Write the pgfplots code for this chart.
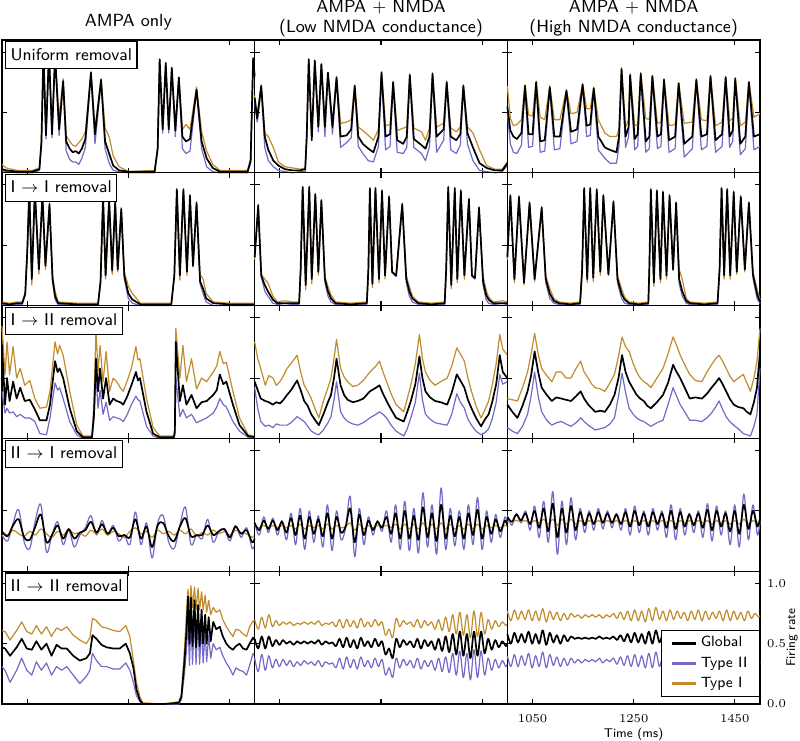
\documentclass[border=0pt]{standalone}
\usepackage{pgfplots}
\pgfplotsset{compat=1.18}
\usepackage{pgfplotstable}
\usepgfplotslibrary{groupplots}
\definecolor{typeII}{RGB}{115,105,198}
\definecolor{typeI}{RGB}{192,140,44}

% ---------- Row 1: Uniform removal ----------
\pgfplotstableread{
t g b o
1000 0.03 0.02 0.07
1008 0.02 0.01 0.04
1030 0.01 0.00 0.02
1060 0.01 0.00 0.02
1074 0.03 0.02 0.04
1078 0.25 0.23 0.27
1082 1.00 0.99 1.00
1087 0.31 0.28 0.33
1093 1.00 0.99 1.00
1099 0.32 0.29 0.34
1105 0.98 0.97 0.98
1113 0.36 0.31 0.45
1121 0.76 0.75 0.78
1127 0.26 0.18 0.31
1134 0.20 0.11 0.26
1140 0.17 0.09 0.23
1146 0.18 0.09 0.22
1152 0.16 0.07 0.25
1158 0.20 0.12 0.28
1165 0.28 0.21 0.34
1176 0.83 0.82 0.84
1184 0.32 0.24 0.37
1196 0.77 0.76 0.78
1204 0.26 0.20 0.37
1212 0.16 0.08 0.30
1220 0.06 0.02 0.14
1232 0.02 0.01 0.05
1250 0.01 0.00 0.01
1302 0.01 0.00 0.02
1308 0.20 0.18 0.21
1312 0.94 0.93 0.94
1318 0.36 0.33 0.36
1324 0.91 0.90 0.91
1330 0.36 0.33 0.37
1336 0.87 0.86 0.87
1343 0.35 0.30 0.38
1350 0.79 0.78 0.79
1357 0.30 0.20 0.36
1364 0.26 0.16 0.40
1372 0.28 0.18 0.36
1385 0.69 0.68 0.71
1395 0.26 0.20 0.34
1405 0.12 0.05 0.18
1417 0.04 0.01 0.07
1431 0.01 0.00 0.02
1486 0.01 0.00 0.02
1492 0.10 0.08 0.12
1497 0.95 0.93 0.95
1500 0.80 0.78 0.80
}\tAA
\pgfplotstableread{
t g b o
1000 0.62 0.58 0.64
1005 0.45 0.42 0.48
1013 0.72 0.70 0.73
1020 0.30 0.21 0.33
1027 0.19 0.10 0.30
1037 0.10 0.05 0.21
1047 0.06 0.02 0.09
1060 0.03 0.01 0.05
1075 0.02 0.00 0.04
1090 0.02 0.01 0.03
1100 0.03 0.01 0.04
1103 0.30 0.28 0.31
1107 0.94 0.93 0.94
1113 0.27 0.30 0.30
1119 0.93 0.92 0.93
1126 0.38 0.34 0.40
1132 0.90 0.89 0.90
1139 0.38 0.30 0.42
1145 0.83 0.82 0.83
1154 0.38 0.32 0.42
1162 0.79 0.78 0.80
1170 0.30 0.21 0.41
1182 0.31 0.25 0.42
1191 0.36 0.29 0.44
1198 0.72 0.71 0.73
1205 0.30 0.22 0.38
1214 0.24 0.16 0.35
1225 0.20 0.10 0.31
1235 0.17 0.09 0.27
1245 0.30 0.22 0.36
1251 0.83 0.82 0.84
1259 0.30 0.19 0.39
1268 0.32 0.22 0.40
1274 0.75 0.74 0.76
1282 0.27 0.17 0.35
1294 0.24 0.16 0.37
1301 0.30 0.21 0.38
1307 0.81 0.80 0.82
1315 0.28 0.21 0.37
1330 0.23 0.16 0.34
1338 0.20 0.10 0.27
1346 0.30 0.22 0.37
1352 0.82 0.81 0.83
1360 0.30 0.17 0.38
1374 0.36 0.27 0.41
1380 0.75 0.74 0.76
1388 0.30 0.19 0.37
1399 0.27 0.16 0.34
1407 0.32 0.23 0.38
1413 0.72 0.71 0.73
1421 0.33 0.24 0.38
1432 0.21 0.10 0.33
1445 0.08 0.02 0.19
1459 0.04 0.01 0.06
1475 0.02 0.00 0.03
1490 0.02 0.01 0.03
1500 0.08 0.06 0.09
}\tAB
\pgfplotstableread{
t g b o
1000 0.55 0.50 0.72
1006 0.35 0.24 0.45
1012 0.30 0.17 0.39
1019 0.28 0.16 0.40
1028 0.33 0.23 0.44
1035 0.72 0.71 0.73
1042 0.32 0.21 0.48
1050 0.32 0.22 0.47
1057 0.75 0.74 0.76
1065 0.26 0.17 0.46
1074 0.27 0.18 0.44
1084 0.71 0.70 0.72
1093 0.30 0.19 0.44
1104 0.30 0.20 0.44
1117 0.68 0.67 0.69
1126 0.34 0.24 0.49
1138 0.36 0.26 0.50
1149 0.73 0.72 0.74
1157 0.39 0.30 0.53
1164 0.40 0.31 0.53
1171 0.70 0.69 0.71
1180 0.30 0.19 0.44
1193 0.21 0.12 0.33
1203 0.19 0.08 0.30
1216 0.17 0.08 0.30
1221 0.30 0.22 0.36
1226 0.86 0.85 0.87
1234 0.30 0.21 0.38
1240 0.38 0.30 0.44
1243 0.81 0.80 0.82
1252 0.28 0.19 0.39
1258 0.32 0.22 0.40
1264 0.82 0.81 0.83
1274 0.26 0.17 0.45
1281 0.30 0.20 0.44
1287 0.80 0.79 0.81
1297 0.30 0.20 0.41
1304 0.32 0.22 0.42
1310 0.77 0.76 0.78
1320 0.27 0.17 0.39
1332 0.30 0.20 0.40
1339 0.74 0.73 0.75
1350 0.24 0.13 0.41
1366 0.30 0.20 0.42
1374 0.77 0.76 0.78
1384 0.30 0.19 0.44
1395 0.32 0.22 0.43
1402 0.80 0.79 0.81
1412 0.27 0.17 0.39
1425 0.32 0.22 0.42
1432 0.79 0.78 0.80
1440 0.30 0.21 0.43
1446 0.35 0.26 0.45
1451 0.78 0.77 0.79
1461 0.24 0.15 0.39
1471 0.30 0.20 0.42
1478 0.75 0.74 0.76
1488 0.30 0.19 0.46
1500 0.32 0.22 0.49
}\tAC

% ---------- Row 2: I -> I removal ----------
\pgfplotstableread{
t g b o
1000 0.02 0.01 0.03
1015 0.01 0.00 0.02
1030 0.02 0.01 0.03
1040 0.02 0.01 0.03
1046 0.10 0.09 0.08
1050 0.45 0.46 0.42
1054 0.96 0.97 0.94
1059 0.22 0.23 0.17
1065 0.96 0.97 0.94
1073 0.30 0.31 0.26
1080 0.92 0.93 0.90
1086 0.33 0.33 0.30
1094 0.84 0.85 0.82
1100 0.22 0.20 0.26
1105 0.08 0.05 0.12
1111 0.02 0.01 0.03
1150 0.01 0.00 0.02
1190 0.01 0.00 0.02
1195 0.20 0.20 0.18
1200 0.90 0.91 0.88
1205 0.25 0.26 0.22
1212 0.88 0.89 0.86
1218 0.29 0.30 0.26
1224 0.86 0.87 0.84
1229 0.30 0.30 0.28
1236 0.80 0.81 0.78
1242 0.25 0.22 0.28
1250 0.10 0.06 0.16
1258 0.05 0.02 0.10
1274 0.01 0.00 0.02
1300 0.01 0.00 0.02
1335 0.01 0.00 0.02
1341 0.25 0.25 0.23
1346 0.96 0.97 0.94
1352 0.25 0.26 0.21
1359 0.96 0.97 0.94
1366 0.28 0.29 0.25
1372 0.91 0.92 0.89
1378 0.33 0.32 0.36
1385 0.85 0.86 0.83
1392 0.20 0.18 0.26
1398 0.14 0.10 0.22
1404 0.06 0.03 0.10
1418 0.02 0.00 0.03
1450 0.01 0.00 0.02
1500 0.01 0.00 0.02
}\tBA
\pgfplotstableread{
t g b o
1000 0.40 0.40 0.38
1007 0.83 0.84 0.81
1013 0.25 0.24 0.26
1020 0.17 0.12 0.22
1026 0.12 0.08 0.19
1036 0.05 0.02 0.08
1045 0.02 0.01 0.03
1060 0.02 0.00 0.04
1075 0.02 0.01 0.03
1088 0.02 0.01 0.03
1091 0.30 0.30 0.28
1095 0.98 0.99 0.96
1101 0.17 0.17 0.13
1108 0.98 0.99 0.96
1113 0.22 0.22 0.18
1120 0.92 0.93 0.90
1126 0.28 0.28 0.25
1132 0.87 0.88 0.85
1139 0.22 0.19 0.24
1145 0.12 0.08 0.16
1151 0.06 0.03 0.09
1160 0.02 0.01 0.03
1190 0.01 0.00 0.02
1222 0.02 0.01 0.03
1225 0.30 0.30 0.28
1228 0.97 0.98 0.95
1233 0.18 0.18 0.15
1239 0.97 0.98 0.95
1246 0.22 0.22 0.19
1252 0.95 0.96 0.93
1258 0.25 0.25 0.22
1266 0.90 0.91 0.88
1272 0.28 0.27 0.27
1280 0.25 0.24 0.25
1292 0.84 0.85 0.82
1300 0.22 0.19 0.25
1306 0.12 0.08 0.16
1312 0.06 0.03 0.08
1324 0.02 0.01 0.03
1350 0.01 0.00 0.02
1376 0.02 0.01 0.03
1379 0.30 0.30 0.28
1383 0.98 0.99 0.96
1389 0.17 0.17 0.14
1396 0.97 0.98 0.95
1401 0.22 0.22 0.19
1408 0.95 0.96 0.93
1415 0.25 0.25 0.22
1424 0.88 0.89 0.86
1430 0.25 0.24 0.24
1436 0.23 0.22 0.24
1444 0.81 0.82 0.79
1452 0.20 0.17 0.24
1458 0.09 0.05 0.13
1463 0.05 0.02 0.07
1472 0.02 0.01 0.03
1490 0.02 0.00 0.04
1500 0.02 0.01 0.03
}\tBB
\pgfplotstableread{
t g b o
1000 0.40 0.40 0.38
1006 0.91 0.92 0.89
1014 0.22 0.22 0.19
1023 0.90 0.91 0.88
1033 0.19 0.19 0.17
1044 0.85 0.86 0.83
1054 0.22 0.22 0.20
1068 0.81 0.82 0.79
1076 0.22 0.19 0.25
1084 0.10 0.06 0.14
1092 0.04 0.02 0.06
1102 0.02 0.01 0.03
1125 0.01 0.00 0.02
1144 0.02 0.01 0.03
1148 0.30 0.30 0.28
1152 0.97 0.98 0.95
1158 0.22 0.22 0.19
1164 0.97 0.98 0.95
1170 0.23 0.23 0.20
1177 0.96 0.97 0.94
1184 0.28 0.28 0.25
1190 0.91 0.92 0.89
1200 0.26 0.26 0.25
1210 0.86 0.87 0.84
1218 0.22 0.19 0.25
1226 0.10 0.06 0.14
1232 0.05 0.02 0.07
1241 0.02 0.01 0.03
1260 0.01 0.00 0.02
1279 0.02 0.01 0.03
1281 0.30 0.30 0.28
1284 0.96 0.97 0.94
1290 0.19 0.19 0.16
1296 0.95 0.96 0.93
1303 0.22 0.22 0.19
1308 0.94 0.95 0.92
1315 0.25 0.25 0.22
1321 0.91 0.92 0.89
1328 0.30 0.29 0.30
1334 0.85 0.86 0.83
1340 0.22 0.18 0.30
1346 0.12 0.08 0.22
1354 0.04 0.02 0.06
1361 0.02 0.01 0.03
1390 0.01 0.00 0.02
1416 0.02 0.01 0.03
1420 0.30 0.30 0.28
1424 0.97 0.98 0.95
1429 0.25 0.25 0.22
1435 0.96 0.97 0.94
1441 0.25 0.25 0.22
1448 0.94 0.95 0.92
1454 0.28 0.28 0.26
1462 0.90 0.91 0.88
1470 0.30 0.30 0.28
1478 0.85 0.86 0.83
1486 0.26 0.23 0.28
1494 0.10 0.06 0.14
1500 0.03 0.02 0.05
}\tBC

% ---------- Row 3: I -> II removal ----------
\pgfplotstableread{
t g b o
1000 0.77 0.39 0.93
1006 0.28 0.21 0.53
1010 0.50 0.25 0.80
1015 0.31 0.21 0.53
1022 0.47 0.22 0.76
1029 0.33 0.18 0.50
1036 0.42 0.20 0.58
1045 0.31 0.17 0.44
1055 0.32 0.17 0.48
1065 0.24 0.14 0.33
1075 0.15 0.04 0.25
1088 0.15 0.03 0.26
1095 0.28 0.17 0.39
1105 0.64 0.46 0.80
1110 0.55 0.40 0.70
1114 0.58 0.42 0.77
1121 0.50 0.33 0.69
1134 0.25 0.14 0.39
1148 0.06 0.03 0.11
1160 0.01 0.00 0.02
1178 0.01 0.00 0.02
1182 0.20 0.15 0.30
1186 0.66 0.53 0.91
1190 0.39 0.25 0.55
1194 0.58 0.40 0.77
1200 0.33 0.20 0.47
1206 0.50 0.30 0.72
1213 0.28 0.15 0.39
1220 0.33 0.18 0.50
1227 0.31 0.17 0.47
1234 0.30 0.16 0.42
1240 0.28 0.14 0.39
1248 0.35 0.20 0.48
1256 0.44 0.28 0.58
1265 0.55 0.35 0.76
1269 0.48 0.32 0.65
1273 0.50 0.31 0.66
1286 0.22 0.10 0.33
1299 0.04 0.02 0.09
1312 0.01 0.00 0.02
1340 0.01 0.00 0.02
1342 0.05 0.03 0.08
1344 0.80 0.50 0.91
1352 0.31 0.18 0.50
1358 0.44 0.24 0.77
1365 0.28 0.17 0.47
1375 0.36 0.20 0.66
1385 0.25 0.13 0.41
1395 0.30 0.15 0.50
1405 0.31 0.17 0.47
1418 0.36 0.21 0.55
1425 0.40 0.26 0.60
1431 0.53 0.33 0.72
1438 0.45 0.28 0.62
1444 0.47 0.26 0.63
1457 0.28 0.14 0.39
1470 0.11 0.06 0.17
1487 0.02 0.01 0.03
1500 0.01 0.00 0.02
}\tCA
\pgfplotstableread{
t g b o
1000 0.47 0.42 0.80
1006 0.40 0.25 0.66
1012 0.33 0.14 0.58
1021 0.31 0.10 0.44
1028 0.30 0.11 0.52
1036 0.28 0.09 0.50
1043 0.30 0.12 0.44
1050 0.29 0.11 0.47
1057 0.32 0.11 0.52
1064 0.36 0.11 0.58
1072 0.40 0.13 0.62
1084 0.48 0.18 0.69
1091 0.40 0.16 0.55
1098 0.31 0.14 0.44
1105 0.27 0.10 0.39
1112 0.20 0.06 0.33
1120 0.15 0.04 0.24
1127 0.11 0.03 0.17
1136 0.20 0.07 0.31
1145 0.30 0.13 0.42
1151 0.36 0.18 0.50
1157 0.50 0.32 0.66
1162 0.66 0.47 0.82
1170 0.44 0.22 0.58
1177 0.36 0.17 0.51
1184 0.32 0.14 0.47
1194 0.30 0.12 0.43
1204 0.31 0.11 0.44
1215 0.33 0.13 0.48
1228 0.39 0.17 0.55
1240 0.42 0.20 0.60
1247 0.44 0.22 0.64
1254 0.37 0.20 0.55
1261 0.31 0.17 0.47
1270 0.24 0.11 0.37
1280 0.17 0.06 0.28
1295 0.14 0.02 0.22
1302 0.22 0.08 0.33
1309 0.31 0.17 0.44
1318 0.45 0.30 0.62
1326 0.68 0.54 0.86
1332 0.50 0.32 0.66
1338 0.39 0.20 0.55
1347 0.34 0.16 0.48
1357 0.31 0.13 0.44
1368 0.30 0.12 0.47
1381 0.28 0.11 0.50
1390 0.38 0.20 0.60
1400 0.53 0.37 0.75
1407 0.48 0.30 0.70
1415 0.42 0.25 0.64
1422 0.32 0.16 0.50
1429 0.25 0.11 0.39
1438 0.17 0.06 0.27
1448 0.10 0.03 0.17
1456 0.16 0.05 0.24
1463 0.20 0.08 0.31
1470 0.30 0.16 0.44
1478 0.45 0.30 0.62
1485 0.69 0.53 0.86
1491 0.55 0.45 0.74
1500 0.50 0.47 0.69
}\tCB
\pgfplotstableread{
t g b o
1000 0.28 0.09 0.33
1010 0.22 0.06 0.32
1020 0.17 0.04 0.31
1030 0.27 0.10 0.42
1040 0.39 0.20 0.55
1047 0.52 0.35 0.70
1054 0.72 0.55 0.87
1061 0.55 0.35 0.70
1068 0.42 0.22 0.58
1078 0.36 0.15 0.52
1088 0.31 0.11 0.47
1097 0.34 0.13 0.55
1107 0.33 0.14 0.55
1116 0.32 0.12 0.50
1126 0.31 0.10 0.50
1136 0.35 0.13 0.58
1145 0.39 0.17 0.64
1152 0.33 0.14 0.55
1160 0.28 0.11 0.50
1167 0.25 0.09 0.45
1174 0.22 0.07 0.42
1184 0.23 0.08 0.41
1193 0.22 0.09 0.39
1203 0.28 0.12 0.46
1212 0.36 0.17 0.53
1220 0.50 0.35 0.68
1227 0.69 0.54 0.84
1234 0.55 0.38 0.76
1241 0.47 0.25 0.72
1249 0.41 0.20 0.62
1256 0.36 0.17 0.55
1263 0.33 0.15 0.50
1270 0.31 0.14 0.47
1277 0.27 0.12 0.45
1284 0.25 0.10 0.42
1296 0.30 0.13 0.50
1308 0.36 0.15 0.58
1318 0.46 0.28 0.70
1328 0.61 0.42 0.84
1335 0.55 0.35 0.77
1342 0.50 0.28 0.69
1351 0.42 0.22 0.61
1361 0.33 0.15 0.53
1372 0.34 0.15 0.48
1385 0.33 0.14 0.47
1395 0.37 0.17 0.55
1404 0.42 0.21 0.61
1412 0.46 0.26 0.66
1419 0.50 0.31 0.69
1426 0.45 0.24 0.64
1433 0.39 0.18 0.58
1440 0.33 0.14 0.52
1448 0.28 0.11 0.47
1457 0.26 0.08 0.50
1467 0.25 0.04 0.53
1474 0.22 0.03 0.46
1481 0.20 0.02 0.39
1488 0.30 0.10 0.50
1494 0.42 0.20 0.64
1500 0.72 0.58 0.91
}\tCC

% ---------- Row 4: II -> I removal ----------
\pgfplotstableread{
t g b o
1000 0.33 0.30 0.33
1011 0.29 0.25 0.30
1022 0.38 0.40 0.34
1033 0.43 0.51 0.31
1044 0.28 0.24 0.29
1055 0.26 0.19 0.33
1066 0.37 0.42 0.30
1077 0.47 0.55 0.35
1088 0.24 0.16 0.31
1099 0.30 0.30 0.28
1110 0.38 0.41 0.33
1121 0.27 0.22 0.30
1132 0.35 0.34 0.34
1143 0.27 0.20 0.31
1154 0.32 0.30 0.32
1165 0.34 0.36 0.29
1176 0.41 0.46 0.34
1187 0.32 0.30 0.31
1198 0.39 0.42 0.35
1209 0.31 0.30 0.30
1220 0.36 0.38 0.33
1231 0.29 0.25 0.31
1242 0.30 0.30 0.28
1253 0.28 0.22 0.33
1264 0.43 0.49 0.36
1275 0.27 0.22 0.31
1286 0.37 0.40 0.33
1297 0.20 0.11 0.28
1308 0.38 0.40 0.34
1319 0.40 0.46 0.31
1330 0.29 0.24 0.33
1341 0.25 0.19 0.30
1352 0.37 0.38 0.34
1363 0.44 0.53 0.31
1374 0.29 0.22 0.35
1385 0.30 0.30 0.29
1396 0.30 0.27 0.32
1407 0.38 0.43 0.30
1418 0.30 0.24 0.34
1429 0.33 0.33 0.31
1440 0.35 0.35 0.33
1451 0.28 0.25 0.30
1462 0.37 0.38 0.34
1473 0.31 0.28 0.32
1484 0.34 0.36 0.31
1495 0.24 0.19 0.28
1500 0.27 0.22 0.30
}\tDA
\pgfplotstableread{
t g b o
1000 0.40 0.40 0.37
1009 0.34 0.30 0.36
1018 0.42 0.45 0.38
1027 0.35 0.32 0.36
1036 0.42 0.44 0.38
1045 0.34 0.30 0.36
1054 0.41 0.42 0.38
1063 0.32 0.26 0.36
1072 0.44 0.48 0.38
1081 0.30 0.22 0.35
1090 0.46 0.52 0.39
1099 0.27 0.18 0.35
1108 0.45 0.50 0.38
1117 0.31 0.24 0.36
1126 0.43 0.46 0.38
1135 0.29 0.20 0.35
1144 0.48 0.55 0.39
1153 0.27 0.17 0.35
1162 0.45 0.50 0.38
1171 0.32 0.26 0.36
1180 0.37 0.36 0.37
1189 0.52 0.62 0.40
1198 0.24 0.12 0.34
1207 0.47 0.52 0.39
1216 0.30 0.22 0.35
1225 0.42 0.45 0.38
1234 0.34 0.30 0.36
1243 0.41 0.42 0.38
1252 0.36 0.33 0.37
1261 0.45 0.50 0.38
1270 0.31 0.24 0.36
1279 0.48 0.55 0.39
1288 0.27 0.18 0.35
1297 0.50 0.58 0.39
1306 0.27 0.17 0.35
1315 0.46 0.52 0.39
1324 0.26 0.15 0.35
1333 0.53 0.65 0.40
1342 0.28 0.20 0.35
1351 0.48 0.55 0.39
1360 0.25 0.14 0.35
1369 0.55 0.69 0.40
1378 0.27 0.18 0.35
1387 0.46 0.52 0.39
1396 0.29 0.21 0.35
1405 0.45 0.50 0.38
1414 0.27 0.18 0.35
1423 0.48 0.55 0.39
1432 0.30 0.22 0.35
1441 0.51 0.61 0.39
1450 0.27 0.18 0.35
1459 0.45 0.50 0.38
1468 0.31 0.24 0.36
1477 0.43 0.47 0.38
1486 0.33 0.28 0.36
1495 0.42 0.45 0.38
1500 0.38 0.38 0.37
}\tDB
\pgfplotstableread{
t g b o
1000 0.45 0.46 0.41
1009 0.41 0.38 0.41
1018 0.47 0.48 0.42
1027 0.42 0.40 0.41
1036 0.48 0.50 0.42
1045 0.39 0.34 0.40
1054 0.50 0.54 0.42
1063 0.36 0.28 0.40
1072 0.52 0.58 0.43
1081 0.33 0.24 0.39
1090 0.56 0.66 0.43
1099 0.28 0.14 0.38
1108 0.52 0.58 0.43
1117 0.32 0.22 0.39
1126 0.54 0.61 0.43
1135 0.34 0.26 0.39
1144 0.49 0.52 0.42
1153 0.38 0.32 0.40
1162 0.48 0.50 0.42
1171 0.39 0.34 0.40
1180 0.49 0.52 0.42
1189 0.40 0.35 0.40
1198 0.48 0.50 0.42
1207 0.40 0.36 0.40
1216 0.47 0.48 0.42
1225 0.39 0.34 0.40
1234 0.49 0.52 0.42
1243 0.37 0.30 0.40
1252 0.50 0.54 0.42
1261 0.38 0.32 0.40
1270 0.48 0.50 0.42
1279 0.37 0.30 0.40
1288 0.49 0.52 0.42
1297 0.39 0.34 0.40
1306 0.48 0.50 0.42
1315 0.36 0.28 0.40
1324 0.50 0.55 0.42
1333 0.35 0.26 0.39
1342 0.49 0.52 0.42
1351 0.37 0.30 0.40
1360 0.47 0.48 0.42
1369 0.38 0.32 0.40
1378 0.48 0.50 0.42
1387 0.36 0.28 0.40
1396 0.51 0.56 0.42
1405 0.34 0.25 0.39
1414 0.50 0.54 0.42
1423 0.37 0.30 0.40
1432 0.48 0.50 0.42
1441 0.33 0.22 0.39
1450 0.50 0.55 0.42
1459 0.31 0.20 0.39
1468 0.55 0.64 0.43
1477 0.35 0.26 0.39
1486 0.50 0.55 0.42
1495 0.37 0.30 0.40
1500 0.44 0.42 0.41
}\tDC

% ---------- Row 5: II -> II removal ----------
\pgfplotstableread{
t g b o
1000 0.47 0.31 0.61
1006 0.46 0.28 0.60
1016 0.40 0.18 0.53
1029 0.47 0.28 0.61
1039 0.54 0.38 0.68
1049 0.46 0.28 0.60
1059 0.45 0.24 0.58
1068 0.52 0.35 0.65
1078 0.45 0.28 0.58
1088 0.50 0.34 0.64
1098 0.40 0.24 0.56
1108 0.49 0.31 0.63
1118 0.46 0.28 0.61
1128 0.46 0.31 0.64
1141 0.40 0.24 0.57
1154 0.36 0.17 0.53
1167 0.38 0.23 0.50
1174 0.42 0.28 0.55
1179 0.57 0.42 0.71
1187 0.54 0.36 0.69
1197 0.49 0.31 0.64
1207 0.47 0.31 0.63
1220 0.46 0.29 0.61
1233 0.46 0.29 0.60
1245 0.50 0.34 0.65
1253 0.42 0.28 0.56
1260 0.30 0.18 0.36
1266 0.12 0.07 0.18
1273 0.03 0.02 0.06
1279 0.00 0.00 0.01
1320 0.00 0.00 0.00
1350 0.01 0.00 0.02
1355 0.06 0.04 0.08
1361 0.35 0.25 0.45
1365 0.60 0.45 0.75
1368 0.89 0.70 0.95
1371 0.50 0.32 0.78
1374 0.88 0.75 0.98
1377 0.48 0.33 0.80
1381 0.86 0.72 0.97
1384 0.47 0.33 0.78
1388 0.82 0.70 0.96
1391 0.48 0.33 0.78
1395 0.78 0.65 0.93
1398 0.50 0.34 0.78
1402 0.74 0.60 0.90
1405 0.50 0.35 0.76
1409 0.72 0.57 0.86
1413 0.52 0.38 0.74
1418 0.68 0.50 0.80
1424 0.62 0.45 0.76
1431 0.64 0.47 0.78
1437 0.56 0.40 0.70
1444 0.50 0.34 0.64
1450 0.47 0.30 0.60
1457 0.45 0.24 0.56
1463 0.48 0.30 0.62
1470 0.50 0.28 0.61
1477 0.46 0.27 0.58
1484 0.45 0.24 0.56
1490 0.50 0.32 0.64
1497 0.55 0.42 0.69
1500 0.53 0.40 0.67
}\tEA
\pgfplotstableread{
t g b o
1000 0.54 0.38 0.70
1007 0.46 0.27 0.62
1014 0.56 0.41 0.72
1021 0.46 0.28 0.63
1028 0.56 0.40 0.74
1035 0.48 0.30 0.64
1042 0.53 0.37 0.69
1049 0.49 0.31 0.65
1056 0.53 0.37 0.68
1063 0.50 0.32 0.66
1070 0.52 0.36 0.68
1077 0.49 0.31 0.65
1084 0.52 0.35 0.67
1091 0.50 0.32 0.66
1098 0.52 0.36 0.68
1105 0.50 0.33 0.66
1112 0.52 0.35 0.68
1119 0.50 0.32 0.66
1126 0.53 0.36 0.69
1133 0.49 0.31 0.65
1140 0.52 0.35 0.67
1147 0.50 0.33 0.66
1154 0.51 0.34 0.68
1161 0.48 0.30 0.64
1168 0.54 0.38 0.70
1175 0.47 0.29 0.63
1182 0.55 0.39 0.70
1189 0.47 0.30 0.64
1196 0.53 0.37 0.69
1203 0.46 0.29 0.63
1210 0.55 0.39 0.71
1217 0.48 0.31 0.64
1224 0.52 0.36 0.68
1231 0.47 0.30 0.64
1238 0.54 0.38 0.70
1245 0.48 0.31 0.65
1252 0.52 0.37 0.68
1259 0.41 0.24 0.57
1266 0.46 0.30 0.62
1273 0.38 0.22 0.55
1280 0.54 0.38 0.71
1287 0.47 0.30 0.64
1294 0.53 0.37 0.69
1301 0.49 0.32 0.66
1308 0.52 0.36 0.68
1315 0.47 0.30 0.64
1322 0.54 0.38 0.70
1329 0.46 0.29 0.63
1336 0.53 0.36 0.69
1343 0.48 0.31 0.65
1350 0.52 0.36 0.68
1357 0.45 0.28 0.62
1364 0.54 0.38 0.70
1371 0.44 0.27 0.61
1378 0.56 0.39 0.72
1385 0.43 0.26 0.60
1392 0.58 0.42 0.74
1399 0.41 0.24 0.58
1406 0.60 0.44 0.76
1413 0.40 0.22 0.57
1420 0.58 0.42 0.74
1427 0.38 0.20 0.55
1434 0.60 0.45 0.77
1441 0.40 0.22 0.56
1448 0.60 0.44 0.76
1455 0.42 0.24 0.58
1462 0.54 0.38 0.70
1469 0.45 0.28 0.62
1476 0.53 0.37 0.69
1483 0.47 0.30 0.64
1490 0.52 0.36 0.68
1497 0.48 0.31 0.65
1500 0.50 0.33 0.66
}\tEB
\pgfplotstableread{
t g b o
1000 0.58 0.40 0.77
1007 0.50 0.31 0.69
1014 0.59 0.41 0.78
1021 0.51 0.31 0.70
1028 0.58 0.40 0.77
1035 0.51 0.32 0.70
1042 0.60 0.42 0.78
1049 0.50 0.30 0.69
1056 0.58 0.40 0.77
1063 0.50 0.31 0.69
1070 0.61 0.43 0.79
1077 0.49 0.30 0.68
1084 0.59 0.41 0.77
1091 0.51 0.32 0.70
1098 0.57 0.39 0.76
1105 0.50 0.31 0.69
1112 0.57 0.38 0.75
1119 0.52 0.32 0.70
1126 0.56 0.38 0.75
1133 0.54 0.34 0.72
1140 0.55 0.37 0.74
1147 0.54 0.34 0.71
1154 0.55 0.37 0.74
1161 0.54 0.35 0.72
1168 0.55 0.37 0.74
1175 0.54 0.35 0.72
1182 0.56 0.38 0.74
1189 0.54 0.34 0.71
1196 0.55 0.37 0.74
1203 0.54 0.35 0.72
1210 0.56 0.38 0.75
1217 0.53 0.33 0.71
1224 0.57 0.39 0.76
1231 0.52 0.32 0.70
1238 0.58 0.40 0.77
1245 0.51 0.31 0.69
1252 0.59 0.41 0.78
1259 0.51 0.31 0.69
1266 0.58 0.40 0.77
1273 0.50 0.30 0.68
1280 0.60 0.42 0.79
1287 0.50 0.30 0.69
1294 0.61 0.43 0.80
1301 0.51 0.31 0.70
1308 0.58 0.40 0.77
1315 0.50 0.30 0.69
1322 0.59 0.41 0.78
1329 0.51 0.31 0.70
1336 0.58 0.40 0.77
1343 0.52 0.32 0.71
1350 0.57 0.39 0.76
1357 0.51 0.31 0.69
1364 0.58 0.40 0.77
1371 0.52 0.32 0.70
1378 0.59 0.41 0.78
1385 0.51 0.31 0.69
1392 0.58 0.40 0.77
1399 0.52 0.32 0.70
1406 0.57 0.39 0.76
1413 0.53 0.33 0.71
1420 0.58 0.40 0.77
1427 0.51 0.31 0.69
1434 0.59 0.41 0.78
1441 0.50 0.30 0.69
1448 0.58 0.40 0.77
1455 0.52 0.32 0.70
1462 0.57 0.39 0.76
1469 0.51 0.31 0.69
1476 0.58 0.40 0.77
1483 0.52 0.32 0.71
1490 0.56 0.38 0.75
1497 0.53 0.33 0.72
1500 0.54 0.35 0.73
}\tEC

\newcommand{\traces}[2][]{%
  \addplot[typeII, line width=0.6pt, #1] table[x=t,y=b]{#2};
  \addplot[typeI, line width=0.6pt, #1] table[x=t,y=o]{#2};
  \addplot[black, line width=0.85pt, #1] table[x=t,y=g]{#2};}
\newcommand{\rowlab}[1]{%
  \node[draw=black, line width=0.6pt, fill=white, anchor=north west,
        inner xsep=2.5pt, inner ysep=2.8pt, text height=6.3pt, text depth=1.6pt,
        font=\sffamily\fontsize{8.5}{10}\selectfont, xshift=1.5pt, yshift=-0.6pt]
        at (rel axis cs:0,1) {#1};}
\newcommand{\coltitle}[2]{%
  \node[inner sep=0pt, align=center, font=\sffamily\fontsize{8.8}{10}\selectfont,
        anchor=center, yshift=#1] at (rel axis cs:0.5,1) {#2};}

\begin{document}
\begin{tikzpicture}
\begin{groupplot}[
  group style={group size=3 by 5, horizontal sep=0pt, vertical sep=0pt},
  scale only axis, width=126.33pt, height=66.4pt,
  xmin=1000, xmax=1500, ymin=0, ymax=1.1,
  clip=false,
  xtick={1050,1250,1450}, ytick={0.5,1},
  xticklabels={}, yticklabels={},
  major tick length=2.5pt,
  axis line style={line width=0.65pt},
  tick style={line width=0.55pt, black},
  tick label style={font=\fontsize{6}{7}\selectfont},
  every axis plot/.append style={line join=round},
]
% Row 1
\nextgroupplot
\traces{\tAA}
\coordinate (TL) at (rel axis cs:0,1);
\rowlab{Uniform removal}
\coltitle{9pt}{AMPA only}
\nextgroupplot
\traces{\tAB}
\coltitle{10.5pt}{AMPA + NMDA\\(Low NMDA conductance)}
\nextgroupplot
\traces{\tAC}
\coltitle{10.5pt}{AMPA + NMDA\\(High NMDA conductance)}
% Row 2
\nextgroupplot
\traces{\tBA}
\rowlab{I $\rightarrow$ I removal}
\nextgroupplot
\traces{\tBB}
\nextgroupplot
\traces{\tBC}
% Row 3
\nextgroupplot
\traces{\tCA}
\rowlab{I $\rightarrow$ II removal}
\nextgroupplot
\traces{\tCB}
\nextgroupplot
\traces{\tCC}
% Row 4
\nextgroupplot
\traces[smooth, tension=0.55]{\tDA}
\rowlab{II $\rightarrow$ I removal}
\nextgroupplot
\traces[smooth, tension=0.55]{\tDB}
\nextgroupplot
\traces[smooth, tension=0.55]{\tDC}
% Row 5
\nextgroupplot
\traces{\tEA}
\rowlab{II $\rightarrow$ II removal}
\nextgroupplot
\traces[smooth, tension=0.55]{\tEB}
\nextgroupplot[
  ytick={0,0.5,1}, yticklabels={0.0,0.5,1.0}, yticklabel pos=right,
  xticklabels={1050,1250,1450},
  x tick label style={yshift=-1.5pt},
  legend style={at={(1,0.053)}, anchor=south east, draw=black, line width=0.6pt,
    font=\sffamily\fontsize{7.4}{8.5}\selectfont, cells={anchor=west},
    inner xsep=4.5pt, inner ysep=1.5pt, row sep=0.5pt,
    nodes={inner sep=1.5pt}, /tikz/column 2/.style={column sep=8.5pt}},
  legend image code/.code={\draw[#1, line width=1.6pt] (0pt,0pt) -- (12pt,0pt);},
]
\traces[forget plot, smooth, tension=0.55]{\tEC}
\addlegendimage{black}\addlegendentry{Global}
\addlegendimage{typeII}\addlegendentry{Type II}
\addlegendimage{typeI}\addlegendentry{Type I}
\coordinate (BR) at (rel axis cs:1,0);
\node[font=\sffamily\fontsize{6.3}{7}\selectfont, anchor=base, yshift=-16.5pt] at (rel axis cs:0.5,0) {Time (ms)};
\node[font=\sffamily\fontsize{6.3}{7}\selectfont, xshift=16pt, rotate=90, anchor=center] at (rel axis cs:1,0.5) {Firing rate};
\end{groupplot}
\pgfresetboundingbox
\path[use as bounding box] ([shift={(-1pt,20pt)}]TL) rectangle ([shift={(20pt,-18pt)}]BR);
\end{tikzpicture}
\end{document}
